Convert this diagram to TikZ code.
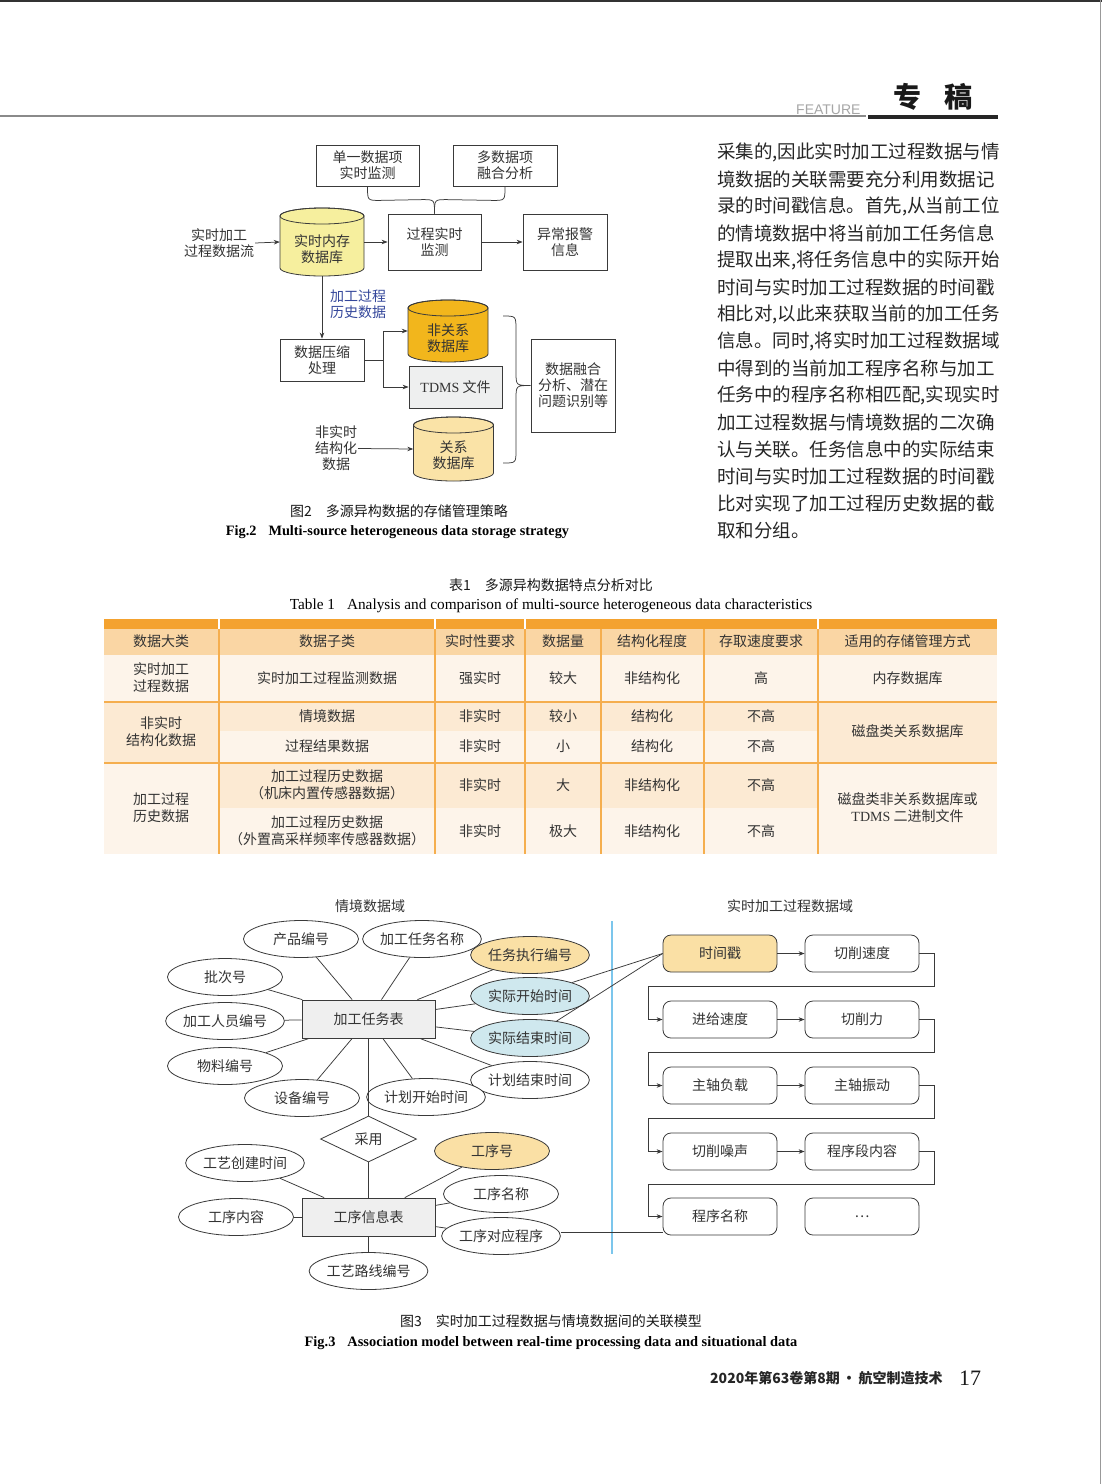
\documentclass[tikz,border=0pt]{standalone}
\usepackage{fontspec}
\setmainfont{Liberation Serif}
\newfontfamily\cjk{Noto Sans CJK SC}
\newfontfamily\sansf{Liberation Sans}
\usetikzlibrary{shapes.geometric,arrows.meta,calc}
\definecolor{linec}{HTML}{3A3A3A}
\definecolor{txt}{HTML}{333333}
\definecolor{ylw}{HTML}{FAE0A5}
\definecolor{lblue}{HTML}{CFE8EE}
\definecolor{memc}{HTML}{F6EF9E}
\definecolor{orc}{HTML}{F2B61C}
\definecolor{relc}{HTML}{FAE3A7}
\definecolor{tdmsc}{HTML}{EEEFEF}
\definecolor{tblbar}{HTML}{F4A22F}
\definecolor{tblhead}{HTML}{FAD6A4}
\definecolor{tblmed}{HTML}{FCEAD3}
\definecolor{tbllight}{HTML}{FDF4EA}
\definecolor{tblline}{HTML}{F5AE4E}
\definecolor{divblue}{HTML}{7CC6EC}
\definecolor{hdrgray}{HTML}{8A8A8A}
\definecolor{labblue}{HTML}{34479B}
\definecolor{tblgray}{HTML}{EFEFEF}
\newcommand\mycyl[6]{%
 \pgfmathsetmacro\cxl{#1-#3/2}\pgfmathsetmacro\cxr{#1+#3/2}%
 \pgfmathsetmacro\cyt{#2-#4/2+#5}\pgfmathsetmacro\cyb{#2+#4/2-#5}%
 \pgfmathsetmacro\crx{#3/2}%
 \filldraw[fill=#6,draw=linec,line width=0.8pt] (\cxl,\cyt) -- (\cxl,\cyb) arc[start angle=180,end angle=0,x radius=\crx,y radius=#5] -- (\cxr,\cyt) arc[start angle=0,end angle=-180,x radius=\crx,y radius=#5] -- cycle;
 \draw[line width=0.8pt,draw=linec] (#1,\cyt) ellipse[x radius=\crx,y radius=#5];
}
\newcommand\tc[4]{\node[tcell] (#1) at (#2,#3) {#4};}
\begin{document}
\begin{tikzpicture}[x=1pt,y=-1pt,
 cjkt/.style={font=\cjk\fontsize{14}{16}\selectfont, text=txt, align=center, inner sep=1pt},
 bx/.style={cjkt, draw=linec, line width=0.8pt, fill=white, inner sep=0pt},
 ell/.style={cjkt, ellipse, draw=linec, line width=0.8pt, fill=white, minimum width=115pt, minimum height=37pt, inner sep=0pt},
 rbx/.style={cjkt, rectangle, rounded corners=8pt, draw=linec, line width=0.8pt, fill=white, minimum width=114pt, minimum height=37pt, inner sep=0pt},
 conn/.style={draw=linec, line width=0.75pt},
 arr/.style={conn, -{Stealth[length=6pt,width=4.5pt]}},
 tcell/.style={font=\cjk\fontsize{14}{17}\selectfont, text=txt, align=center, inner sep=0pt},
 bodyl/.style={font=\cjk\fontsize{18.5}{20}\selectfont, text=black!85, anchor=west, inner sep=0pt},
 capc/.style={font=\cjk\fontsize{14}{16}\selectfont, text=black!90, inner sep=0pt},
]
\useasboundingbox (0,0) rectangle (1102,1484);
\fill[white] (0,0) rectangle (1102,1484);
\draw[black!80, line width=1.5pt] (0,0.75) -- (1102,0.75);
\draw[black!40, line width=0.8pt] (1100.5,0) -- (1100.5,1484);

% ---------- header ----------
\draw[hdrgray, line width=1.3pt] (0,116) -- (866,116);
\draw[black!85, line width=4pt] (868,117) -- (998,117);
\node[font=\sansf\fontsize{14}{14}\selectfont, text=black!35, anchor=base west, inner sep=0pt] (feat) at (796,114) {FEATURE};
\node[font=\cjk\bfseries\fontsize{28}{28}\selectfont, text=black!90, inner sep=0pt] (zg1) at (907,97) {专};
\node[font=\cjk\bfseries\fontsize{28}{28}\selectfont, text=black!90, inner sep=0pt] (zg2) at (958,97) {稿};

% ---------- Fig 2 ----------
\node[bx, minimum width=103pt, minimum height=41pt] (b1) at (367.5,165.5) {单一数据项\\实时监测};
\node[bx, minimum width=104pt, minimum height=41pt] (b2) at (505,165.5) {多数据项\\融合分析};
\node[bx, minimum width=93pt, minimum height=56pt] (jc) at (434.5,242) {过程实时\\监测};
\node[bx, minimum width=84pt, minimum height=56pt] (yc) at (565,242) {异常报警\\信息};
\node[cjkt] (src) at (219,243) {实时加工\\过程数据流};
\mycyl{322}{242}{84}{68}{8}{memc}
\node[inner sep=0pt, minimum width=84pt, minimum height=68pt] (mem) at (322,242) {};
\node[cjkt] (memt) at (322,249.5) {实时内存\\数据库};
\node[bx, minimum width=84pt, minimum height=42pt] (ys) at (322,360) {数据压缩\\处理};
\node[cjkt, text=labblue, anchor=west, align=left] (lab) at (329,304.5) {加工过程\\历史数据};
\mycyl{448}{331}{80}{62}{8}{orc}
\node[inner sep=0pt, minimum width=80pt, minimum height=62pt] (fgx) at (448,331) {};
\node[cjkt] (fgxt) at (448,338.5) {非关系\\数据库};
\node[bx, fill=tdmsc, minimum width=93pt, minimum height=42pt] (tdms) at (455.5,387) {{\rmfamily TDMS} 文件};
\mycyl{453.5}{449}{80}{64}{8}{relc}
\node[inner sep=0pt, minimum width=80pt, minimum height=64pt] (gx) at (453.5,449) {};
\node[cjkt] (gxt) at (453.5,455) {关系\\数据库};
\node[cjkt] (fsss) at (336,448.5) {非实时\\结构化\\数据};
\node[bx, minimum width=84pt, minimum height=93pt] (rh) at (573,385.5) {数据融合\\分析、潜在\\问题识别等};

\coordinate (jn) at (jc.north);
\draw[conn] (b1.south) .. controls ($(b1.south)+(0,14)$) .. ($(b1.south)+(12,14)$) -- ($(jn)+(-12,-14)$) .. controls ($(jn)+(0,-14)$) .. (jn);
\draw[conn] (b2.south) .. controls ($(b2.south)+(0,14)$) .. ($(b2.south)+(-12,14)$) -- ($(jn)+(12,-14)$) .. controls ($(jn)+(0,-14)$) .. (jn);
\draw[arr] (src.east) -- (mem.west);
\draw[arr] (mem) -- (jc);
\draw[arr] (jc) -- (yc);
\draw[arr] (mem.south) -- (ys.north);
\draw[arr] (ys.east) -- ++(19,0) |- (fgx.west);
\draw[arr] (ys.east) -- ++(19,0) |- (tdms.west);
\draw[arr] (fsss.east) -- (gx.west);
\coordinate (brT) at (503,316);
\coordinate (brB) at (503,463);
\draw[conn] (brT) .. controls (516,316) .. (516,330) -- (516,372) .. controls (516,385.5) .. (rh.west) .. controls (516,385.5) .. (516,399) -- (516,450) .. controls (516,463) .. (brB);

\node[capc] (cap2a) at (399,511) {图2\hspace{14pt}多源异构数据的存储管理策略};
\node[font=\bfseries\fontsize{14.3}{16}\selectfont, inner sep=0pt] (cap2b) at (397.5,532) {Fig.2\hspace{12pt}Multi-source heterogeneous data storage strategy};

% ---------- body text ----------
\node[bodyl] (p1) at (717,152) {采集的,因此实时加工过程数据与情};
\node[bodyl] (p2) at (717,179) {境数据的关联需要充分利用数据记};
\node[bodyl] (p3) at (717,206) {录的时间戳信息。首先,从当前工位};
\node[bodyl] (p4) at (717,233) {的情境数据中将当前加工任务信息};
\node[bodyl] (p5) at (717,260) {提取出来,将任务信息中的实际开始};
\node[bodyl] (p6) at (717,287) {时间与实时加工过程数据的时间戳};
\node[bodyl] (p7) at (717,314) {相比对,以此来获取当前的加工任务};
\node[bodyl] (p8) at (717,341) {信息。同时,将实时加工过程数据域};
\node[bodyl] (p9) at (717,368) {中得到的当前加工程序名称与加工};
\node[bodyl] (p10) at (717,395) {任务中的程序名称相匹配,实现实时};
\node[bodyl] (p11) at (717,422) {加工过程数据与情境数据的二次确};
\node[bodyl] (p12) at (717,449) {认与关联。任务信息中的实际结束};
\node[bodyl] (p13) at (717,476) {时间与实时加工过程数据的时间戳};
\node[bodyl] (p14) at (717,503) {比对实现了加工过程历史数据的截};
\node[bodyl] (p15) at (717,530) {取和分组。};

% ---------- Table 1 ----------
\node[capc] (tcapa) at (551,585) {表1\hspace{14pt}多源异构数据特点分析对比};
\node[font=\fontsize{15.3}{17}\selectfont, inner sep=0pt] (tcapb) at (551,606) {Table 1\hspace{12pt}Analysis and comparison of multi-source heterogeneous data characteristics};
\fill[tbllight] (104,655) rectangle (997,701);
\fill[tblmed] (104,702) rectangle (997,731);
\fill[tbllight] (219,731) rectangle (818,762);
\fill[tblmed] (104,731) rectangle (219,762);
\fill[tblmed] (818,731) rectangle (997,762);
\fill[tblmed] (219,763) rectangle (818,808);
\fill[tbllight] (219,808) rectangle (818,854);
\fill[tbllight] (104,763) rectangle (219,854);
\fill[tbllight] (818,763) rectangle (997,854);
\fill[tblhead] (104,629) rectangle (997,655);
\fill[tblbar] (104,619) rectangle (997,629);
\draw[tblline, line width=2pt] (104,701.5) -- (997,701.5);
\draw[tblline, line width=2pt] (104,762.5) -- (997,762.5);
\foreach \xx in {219,435,525,601,704,818} \draw[tblline, line width=1.5pt] (\xx,629) -- (\xx,854);
\foreach \xx in {219,435,525,818} \draw[white, line width=1.5pt] (\xx,619) -- (\xx,629);
\tc{h1}{161}{641}{数据大类}
\tc{h2}{327}{641}{数据子类}
\tc{h3}{480}{641}{实时性要求}
\tc{h4}{563}{641}{数据量}
\tc{h5}{652}{641}{结构化程度}
\tc{h6}{761}{641}{存取速度要求}
\tc{h7}{907.5}{641}{适用的存储管理方式}
\tc{r1a}{161}{678}{实时加工\\过程数据}
\tc{r1b}{327}{678}{实时加工过程监测数据}
\tc{r1c}{480}{678}{强实时}
\tc{r1d}{563}{678}{较大}
\tc{r1e}{652}{678}{非结构化}
\tc{r1f}{761}{678}{高}
\tc{r1g}{907.5}{678}{内存数据库}
\tc{r2a}{161}{731.5}{非实时\\结构化数据}
\tc{r2b}{327}{716}{情境数据}
\tc{r2c}{480}{716}{非实时}
\tc{r2d}{563}{716}{较小}
\tc{r2e}{652}{716}{结构化}
\tc{r2f}{761}{716}{不高}
\tc{r3b}{327}{746}{过程结果数据}
\tc{r3c}{480}{746}{非实时}
\tc{r3d}{563}{746}{小}
\tc{r3e}{652}{746}{结构化}
\tc{r3f}{761}{746}{不高}
\tc{r2g}{907.5}{731.5}{磁盘类关系数据库}
\tc{r4a}{161}{807.5}{加工过程\\历史数据}
\tc{r4b}{327}{785}{加工过程历史数据\\（机床内置传感器数据）}
\tc{r4c}{480}{785}{非实时}
\tc{r4d}{563}{785}{大}
\tc{r4e}{652}{785}{非结构化}
\tc{r4f}{761}{785}{不高}
\tc{r5b}{327}{831}{加工过程历史数据\\（外置高采样频率传感器数据）}
\tc{r5c}{480}{831}{非实时}
\tc{r5d}{563}{831}{极大}
\tc{r5e}{652}{831}{非结构化}
\tc{r5f}{761}{831}{不高}
\tc{r4g}{907.5}{807.5}{磁盘类非关系数据库或\\{\rmfamily TDMS} 二进制文件}

% ---------- Fig 3 ----------
\node[cjkt] (d1) at (370,906) {情境数据域};
\node[cjkt] (d2) at (790,906) {实时加工过程数据域};
\draw[divblue, line width=2pt] (612,921) -- (612,1254);

\node[bx, fill=tblgray, minimum width=133pt, minimum height=38pt] (rwb) at (368.5,1019) {加工任务表};
\node[ell] (cpbh) at (301,939) {产品编号};
\node[ell] (jgrwmc) at (422,939) {加工任务名称};
\node[ell, fill=ylw] (rwzxbh) at (530,955) {任务执行编号};
\node[ell] (pch) at (225,977) {批次号};
\node[ell, fill=lblue] (sjks) at (530,996) {实际开始时间};
\node[ell] (jgry) at (225,1021) {加工人员编号};
\node[ell, fill=lblue] (sjjs) at (530,1038) {实际结束时间};
\node[ell] (wlbh) at (225,1066) {物料编号};
\node[ell] (jhjs) at (530,1080) {计划结束时间};
\node[ell] (sbbh) at (302,1098) {设备编号};
\node[ell] (jhks) at (426,1097) {计划开始时间};
\node[cjkt, diamond, draw=linec, line width=0.8pt, fill=white, minimum width=96pt, minimum height=46pt, inner sep=0pt, aspect=2] (cy) at (368.5,1139) {采用};
\node[bx, fill=tblgray, minimum width=133pt, minimum height=38pt] (gxb) at (368.5,1217) {工序信息表};
\node[ell, fill=ylw] (gxh) at (492,1151) {工序号};
\node[ell] (gycj) at (245,1163) {工艺创建时间};
\node[ell] (gxmc) at (501,1194) {工序名称};
\node[ell] (gxnr) at (236,1217) {工序内容};
\node[ell] (gxdy) at (501,1236) {工序对应程序};
\node[ell] (gylx) at (368.5,1271) {工艺路线编号};
\foreach \n in {cpbh,jgrwmc,rwzxbh,pch,sjks,jgry,sjjs,wlbh,jhjs,sbbh,jhks} \draw[conn] (rwb) -- (\n);
\draw[conn] (rwb) -- (cy);
\draw[conn] (cy) -- (gxb);
\foreach \n in {gycj,gxh,gxmc,gxnr,gxdy,gylx} \draw[conn] (gxb) -- (\n);

\node[rbx, fill=ylw] (sjc) at (720,953.5) {时间戳};
\node[rbx] (qxsd) at (862,953.5) {切削速度};
\node[rbx] (jjsd) at (720,1019.5) {进给速度};
\node[rbx] (qxl) at (862,1019.5) {切削力};
\node[rbx] (zzfz) at (720,1085.5) {主轴负载};
\node[rbx] (zzzd) at (862,1085.5) {主轴振动};
\node[rbx] (qxzs) at (720,1151.5) {切削噪声};
\node[rbx] (cxdnr) at (862,1151.5) {程序段内容};
\node[rbx] (cxmc) at (720,1216.5) {程序名称};
\node[rbx] (dots) at (862,1216.5) {…};
\draw[arr] (sjc) -- (qxsd);
\draw[arr] (jjsd) -- (qxl);
\draw[arr] (zzfz) -- (zzzd);
\draw[arr] (qxzs) -- (cxdnr);
\draw[arr] (qxsd.east) -- ++(15,0) -- ++(0,33) -| ($(jjsd.west)+(-14,0)$) -- (jjsd.west);
\draw[arr] (qxl.east) -- ++(15,0) -- ++(0,33) -| ($(zzfz.west)+(-14,0)$) -- (zzfz.west);
\draw[arr] (zzzd.east) -- ++(15,0) -- ++(0,33) -| ($(qxzs.west)+(-14,0)$) -- (qxzs.west);
\draw[arr] (cxdnr.east) -- ++(15,0) -- ++(0,32.5) -| ($(cxmc.west)+(-14,0)$) -- (cxmc.west);
\draw[conn] (sjks) -- (sjc.west);
\draw[conn] (sjjs) -- (sjc.west);
\coordinate (gxdyR) at ($(gxdy.east)+(0,-4)$);
\draw[conn] (gxdyR) -- (gxdyR -| cxmc.west);

\node[capc] (cap3a) at (551,1321) {图3\hspace{14pt}实时加工过程数据与情境数据间的关联模型};
\node[font=\bfseries\fontsize{14.4}{16}\selectfont, inner sep=0pt] (cap3b) at (551,1343) {Fig.3\hspace{12pt}Association model between real-time processing data and situational data};

% ---------- footer ----------
\node[font=\cjk\bfseries\fontsize{14}{16}\selectfont, text=black!85, anchor=west, inner sep=0pt] (foot) at (710,1378) {2020年第63卷第8期\,·\,航空制造技术};
\node[font=\fontsize{22}{22}\selectfont, text=black!90, inner sep=0pt] (pg) at (970,1378) {17};
\end{tikzpicture}
\end{document}
